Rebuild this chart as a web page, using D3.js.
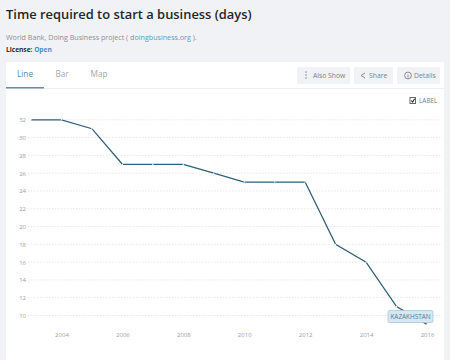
<!DOCTYPE html>
<html><head><meta charset="utf-8">
<script src="https://cdn.jsdelivr.net/npm/d3@7/dist/d3.min.js"></script>
<style>
html,body{margin:0;padding:0;background:#f1f2f6;}
svg{display:block;font-family:"Open Sans",sans-serif;}
</style></head><body>
<svg id="c" width="450" height="360"></svg>
<script>
const years=[2003,2004,2005,2006,2007,2008,2009,2010,2011,2012,2013,2014,2015,2016];
const values=[32,32,31,27,27,27,26,25,25,25,18,16,11,9];
const xTicks=[2004,2006,2008,2010,2012,2014,2016];
const yTicks=[10,12,14,16,18,20,22,24,26,28,30,32];
const tabs=["Line","Bar","Map"];
const seriesLabel="KAZAKHSTAN";

const svg=d3.select("#c");
const x=d3.scaleLinear().domain([2003,2016]).range([31,427]);
const y=d3.scaleLinear().domain([10,32]).range([315.5,119.8]);
const txt=(px,py,s,size,fill,extra={})=>{
  const t=svg.append("text").attr("x",px).attr("y",py).attr("font-size",size).attr("fill",fill).text(s);
  Object.entries(extra).forEach(([k,v])=>t.attr(k,v));
  return t;
};
// header
txt(6,19,"Time required to start a business (days)",12.9,"#23272b",{"font-weight":600});
const src=txt(6,40,"",7.15,"#8a8f96");
src.append("tspan").text("World Bank, Doing Business project ( ");
src.append("tspan").attr("fill","#5b9cbd").text("doingbusiness.org");
src.append("tspan").text(" ).");
const lic=txt(6,52,"",6.6,"#2b2f33",{"font-weight":700});
lic.append("tspan").text("License: ");
lic.append("tspan").attr("fill","#3f93bd").text("Open");
// card
svg.append("rect").attr("x",6).attr("y",62).attr("width",438).attr("height",298).attr("fill","#fff");
svg.append("line").attr("x1",6).attr("x2",444).attr("y1",88.5).attr("y2",88.5).attr("stroke","#eceef1");
svg.append("rect").attr("x",6).attr("y",87).attr("width",38).attr("height",1.5).attr("fill","#5f93ad");
const tabX=[25,62,99], tabCol=["#4f8fae","#a3a7ac","#a3a7ac"];
svg.selectAll(".tab").data(tabs).join("text").attr("class","tab")
  .attr("x",(d,i)=>tabX[i]).attr("y",77).attr("text-anchor","middle")
  .attr("font-size",8.2).attr("fill",(d,i)=>tabCol[i]).text(d=>d);
// buttons
const btnData=[{x:297,w:53,t:"Also Show",tx:313},{x:354,w:39,t:"Share",tx:369},{x:397,w:43,t:"Details",tx:414}];
btnData.forEach(b=>{
  svg.append("rect").attr("x",b.x).attr("y",67).attr("width",b.w).attr("height",17).attr("rx",1).attr("fill","#f1f2f5");
  txt(b.tx,78,b.t,6.8,"#7d8186");
});
svg.append("g").attr("fill","#6d7176").selectAll("circle").data([72,75,78]).join("circle")
  .attr("cx",306).attr("cy",d=>d).attr("r",0.7);
svg.append("path").attr("d","M365 73L361 75.5L365 78").attr("fill","none").attr("stroke","#6d7176").attr("stroke-width",.8);
svg.append("circle").attr("cx",408).attr("cy",75.5).attr("r",3.4).attr("fill","none").attr("stroke","#6d7176").attr("stroke-width",.8);
svg.append("line").attr("x1",408).attr("x2",408).attr("y1",74.5).attr("y2",77.5).attr("stroke","#6d7176").attr("stroke-width",.8);
// checkbox
svg.append("rect").attr("x",410).attr("y",97.5).attr("width",5.5).attr("height",6).attr("fill","#fff").attr("stroke","#666").attr("stroke-width",1);
svg.append("path").attr("d","M411.3 100.5L412.6 102L414.6 98.8").attr("fill","none").attr("stroke","#222").attr("stroke-width",1.1);
txt(419,103,"LABEL",6.4,"#777b80");
// grid
svg.append("g").selectAll("line").data(yTicks).join("line")
  .attr("x1",28).attr("x2",441).attr("y1",d=>y(d)).attr("y2",d=>y(d))
  .attr("stroke","#e6e7e9").attr("stroke-width",1).attr("stroke-dasharray","1.5,1.5");
// axes
const yAxis=d3.axisLeft(y).tickValues(yTicks).tickSize(0).tickPadding(0);
const gy=svg.append("g").attr("transform","translate(26,0)").call(yAxis);
gy.select(".domain").remove();
gy.selectAll("text").attr("font-size",6).attr("fill","#9a9da1").attr("font-family","'Open Sans',sans-serif");
const xAxis=d3.axisBottom(x).tickValues(xTicks).tickFormat(d3.format("d")).tickSize(0).tickPadding(0);
const gx=svg.append("g").attr("transform","translate(0,333)").call(xAxis);
gx.select(".domain").remove();
gx.selectAll("text").attr("font-size",6).attr("fill","#9a9da1").attr("font-family","'Open Sans',sans-serif");
// line
const line=d3.line().x((d,i)=>x(years[i])).y(d=>y(d));
svg.append("path").datum(values).attr("d",line).attr("fill","none").attr("stroke","#2f5f78").attr("stroke-width",1.3);
svg.append("g").selectAll("circle").data(values).join("circle")
  .attr("cx",(d,i)=>x(years[i])).attr("cy",d=>y(d)).attr("r",0.7).attr("fill","#fff");
// label
const lx=x(2016)-39, ly=310.5;
svg.append("rect").attr("x",lx).attr("y",ly).attr("width",45).attr("height",12).attr("rx",1.5)
  .attr("fill","#d6e6f2").attr("stroke","#a9c8dc").attr("stroke-width",.8);
txt(lx+22.5,ly+8.6,seriesLabel,6.4,"#4d7f9c",{"text-anchor":"middle"});
</script>
</body></html>
